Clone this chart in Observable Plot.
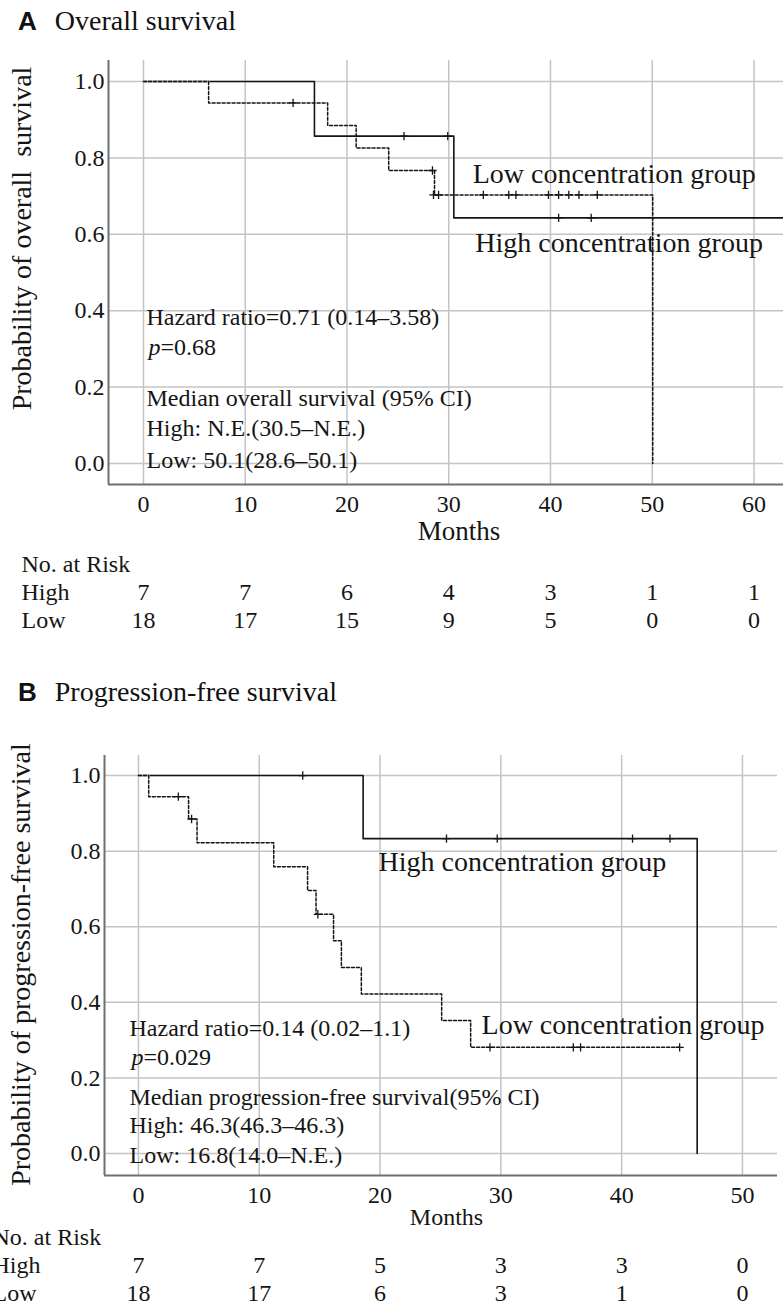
<!DOCTYPE html>
<html><head><meta charset="utf-8">
<script src="https://cdn.jsdelivr.net/npm/d3@7"></script>
<script src="https://cdn.jsdelivr.net/npm/@observablehq/plot@0.6"></script>
<style>
body{margin:0;background:#fff;width:783px;overflow:hidden}
.title{font-family:"Liberation Serif","Times New Roman",serif;font-size:28px;color:#111;white-space:nowrap;padding-left:18px}
.title b{font-family:"Liberation Sans",Arial,sans-serif;font-size:26px;font-weight:bold;margin-right:18px}
#tA{height:44px;line-height:42px}
#tB{height:96px;line-height:96px}
svg{display:block}
svg text{font-family:"Liberation Serif","Times New Roman",serif}
</style></head><body>
<div class="title" id="tA"><b>A</b>Overall survival</div>
<div id="pA"></div>
<div class="title" id="tB"><b>B</b>Progression-free survival</div>
<div id="pB"></div>
<script>
const serif = "Liberation Serif";
const yTicks = [0, 0.2, 0.4, 0.6, 0.8, 1.0];

// ---- Panel A: Overall survival ----
const osTicks = [0, 10, 20, 30, 40, 50, 60];
const osHighTime = [0, 16.8, 30.5, 63];
const osHighSurv = [1, 0.857, 0.643, 0.643];
const osHighCensorTime = [25.6, 29.9, 40.8, 44.0];
const osHighCensorSurv = [0.857, 0.857, 0.643, 0.643];
const osLowTime = [0, 6.4, 18.1, 20.9, 24.1, 28.6, 50.05];
const osLowSurv = [1, 0.944, 0.885, 0.826, 0.767, 0.703, 0];
const osLowCensorTime = [14.7, 28.4, 28.5, 29.0, 33.4, 35.9, 36.6, 39.8, 40.8, 41.8, 42.8, 44.6];
const osLowCensorSurv = [0.944, 0.767, 0.703, 0.703, 0.703, 0.703, 0.703, 0.703, 0.703, 0.703, 0.703, 0.703];
const osRiskHigh = [7, 7, 6, 4, 3, 1, 1];
const osRiskLow = [18, 17, 15, 9, 5, 0, 0];
const osNotes = ["Hazard ratio=0.71 (0.14–3.58)", "=0.68", "Median overall survival (95% CI)", "High: N.E.(30.5–N.E.)", "Low: 50.1(28.6–50.1)"];

// ---- Panel B: Progression-free survival ----
const pfsTicks = [0, 10, 20, 30, 40, 50];
const pfsHighTime = [0, 18.6, 46.25];
const pfsHighSurv = [1, 0.833, 0];
const pfsHighCensorTime = [13.6, 25.5, 29.7, 40.9, 44.0];
const pfsHighCensorSurv = [1, 0.833, 0.833, 0.833, 0.833];
const pfsLowTime = [0, 0.85, 4.15, 4.85, 11.2, 14.0, 14.7, 16.15, 16.8, 18.45, 25.1, 27.5, 44.8];
const pfsLowSurv = [1, 0.944, 0.885, 0.822, 0.759, 0.696, 0.633, 0.563, 0.492, 0.422, 0.352, 0.281, 0.281];
const pfsLowCensorTime = [3.3, 4.4, 14.85, 29.1, 36.0, 36.6, 44.8];
const pfsLowCensorSurv = [0.944, 0.885, 0.633, 0.281, 0.281, 0.281, 0.281];
const pfsRiskHigh = [7, 7, 5, 3, 3, 0];
const pfsRiskLow = [18, 17, 6, 3, 1, 0];
const pfsNotes = ["Hazard ratio=0.14 (0.02–1.1)", "=0.029", "Median progression-free survival(95% CI)", "High: 46.3(46.3–46.3)", "Low: 16.8(14.0–N.E.)"];

function kmPanel(c) {
  const pts = (T, S) => T.map((t, i) => ({t, s: S[i]}));
  const hi = pts(c.hiT, c.hiS), lo = pts(c.loT, c.loS);
  const hiC = pts(c.hiCT, c.hiCS), loC = pts(c.loCT, c.loCS);
  const overlap = [{t: lo[0].t, s: lo[0].s}, {t: lo[1].t, s: lo[0].s}];
  const ink = "#151515", grid = "#c4c4c4", axis = "#6f6f6f";
  const txt = (text, opts) => Plot.text([text], {text: d => d, lineAnchor: "middle", textAnchor: "start", fontSize: 24, fontFamily: serif, fill: ink, ...opts});
  const L = c.layout;
  return Plot.plot({
    width: 783, height: L.height,
    marginTop: L.mt, marginBottom: L.mb, marginLeft: L.ml, marginRight: L.mr,
    style: {fontFamily: serif, fontSize: "24px", color: ink, background: "white"},
    x: {domain: L.xDomain},
    y: {domain: L.yDomain},
    marks: [
      Plot.gridX(c.ticks, {stroke: grid, strokeOpacity: 1, strokeWidth: 1.5}),
      Plot.gridY(yTicks, {stroke: grid, strokeOpacity: 1, strokeWidth: 1.5}),
      Plot.ruleX([L.xDomain[0]], {stroke: axis, strokeWidth: 2}),
      Plot.ruleY([L.yDomain[0]], {stroke: axis, strokeWidth: 2}),
      Plot.axisX(c.ticks, {tickSize: 0, tickPadding: 10, fontSize: 24, fontFamily: serif, label: null}),
      Plot.axisY(yTicks, {tickSize: 0, tickPadding: 4, fontSize: 24, fontFamily: serif, tickFormat: d3.format(".1f"), label: null}),
      // curves
      Plot.line(hi, {x: "t", y: "s", curve: "step-after", stroke: ink, strokeWidth: 1.6}),
      Plot.line(overlap, {x: "t", y: "s", stroke: grid, strokeWidth: 2.2}),
      Plot.line(lo, {x: "t", y: "s", curve: "step-after", stroke: ink, strokeWidth: 1.5, strokeDasharray: "3,2"}),
      Plot.dot(hiC, {x: "t", y: "s", symbol: "plus", r: 2.8, stroke: ink, strokeWidth: 1.3}),
      Plot.dot(loC, {x: "t", y: "s", symbol: "plus", r: 2.8, stroke: ink, strokeWidth: 1.3}),
      // group labels
      txt("Low concentration group", {x: () => L.lowLab[0], y: () => L.lowLab[1], fontSize: 28}),
      txt("High concentration group", {x: () => L.highLab[0], y: () => L.highLab[1], fontSize: 28}),
      // statistics notes
      txt(c.notes[0], {frameAnchor: "left", dx: L.noteDx, y: () => L.noteY[0]}),
      txt("p", {frameAnchor: "left", dx: L.noteDx + 2, y: () => L.noteY[1], fontStyle: "italic"}),
      txt(c.notes[1], {frameAnchor: "left", dx: L.noteDx + 14, y: () => L.noteY[1]}),
      txt(c.notes[2], {frameAnchor: "left", dx: L.noteDx, y: () => L.noteY[2]}),
      txt(c.notes[3], {frameAnchor: "left", dx: L.noteDx, y: () => L.noteY[3]}),
      txt(c.notes[4], {frameAnchor: "left", dx: L.noteDx, y: () => L.noteY[4]}),
      // axis titles
      txt(c.ylabel, {frameAnchor: "left", textAnchor: "middle", rotate: -90, dx: L.ylabDx, y: () => L.ylabY, fontSize: 28}),
      txt("Months", {frameAnchor: "bottom", textAnchor: "middle", x: () => L.xlabX, dy: L.xlabDy, fontSize: L.xlabSize}),
      // number at risk table
      txt("No. at Risk", {frameAnchor: "bottom-left", dx: L.rowX - L.ml, dy: L.rowDy[0]}),
      txt("High", {frameAnchor: "bottom-left", dx: L.rowX - L.ml, dy: L.rowDy[1]}),
      txt("Low", {frameAnchor: "bottom-left", dx: L.rowX - L.ml, dy: L.rowDy[2]}),
      Plot.text(c.ticks, {x: d => d, text: (d, i) => c.riskHigh[i], frameAnchor: "bottom", dy: L.rowDy[1], fontSize: 24, fontFamily: serif, fill: ink, lineAnchor: "middle"}),
      Plot.text(c.ticks, {x: d => d, text: (d, i) => c.riskLow[i], frameAnchor: "bottom", dy: L.rowDy[2], fontSize: 24, fontFamily: serif, fill: ink, lineAnchor: "middle"})
    ]
  });
}

document.getElementById("pA").append(kmPanel({
  ticks: osTicks,
  hiT: osHighTime, hiS: osHighSurv, hiCT: osHighCensorTime, hiCS: osHighCensorSurv,
  loT: osLowTime, loS: osLowSurv, loCT: osLowCensorTime, loCS: osLowCensorSurv,
  riskHigh: osRiskHigh, riskLow: osRiskLow, notes: osNotes,
  ylabel: "Probability of overall\u00a0 survival",
  layout: {
    height: 600, mt: 16, mb: 160, ml: 108, mr: 0,
    xDomain: [-3.44, 62.9], yDomain: [-0.055, 1.055],
    lowLab: [32.35, 0.759], highLab: [32.6, 0.576],
    noteDx: 38, noteY: [0.382, 0.304, 0.170, 0.092, 0.008],
    ylabDx: -86, ylabY: 0.589,
    xlabX: 31, xlabDy: 47, xlabSize: 27,
    rowX: 21, rowDy: [80, 108, 136]
  }
}));

document.getElementById("pB").append(kmPanel({
  ticks: pfsTicks,
  hiT: pfsHighTime, hiS: pfsHighSurv, hiCT: pfsHighCensorTime, hiCS: pfsHighCensorSurv,
  loT: pfsLowTime, loS: pfsLowSurv, loCT: pfsLowCensorTime, loCS: pfsLowCensorSurv,
  riskHigh: pfsRiskHigh, riskLow: pfsRiskLow, notes: pfsNotes,
  ylabel: "Probability of progression-free survival",
  layout: {
    height: 568, mt: 15, mb: 133, ml: 104, mr: 6,
    xDomain: [-2.81, 52.9], yDomain: [-0.058, 1.053],
    lowLab: [28.4, 0.339], highLab: [19.87, 0.770],
    noteDx: 25, noteY: [0.331, 0.254, 0.148, 0.074, -0.005],
    ylabDx: -83, ylabY: 0.5,
    xlabX: 25.5, xlabDy: 42, xlabSize: 24,
    rowX: -8, rowDy: [62, 90, 118]
  }
}));
</script>
</body></html>
